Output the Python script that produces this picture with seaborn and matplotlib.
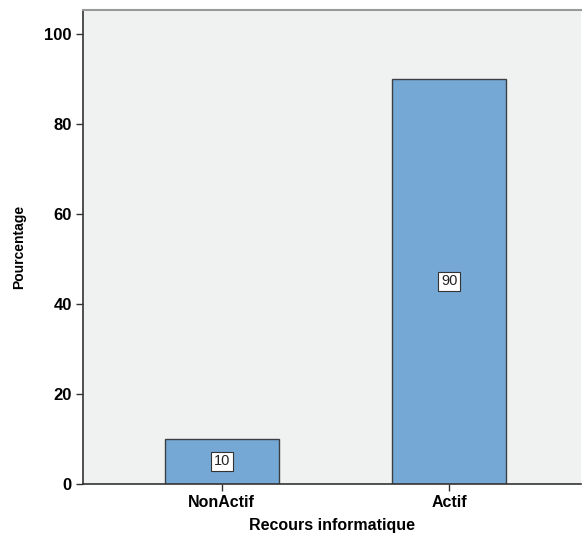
import matplotlib
matplotlib.use("Agg")
import matplotlib.pyplot as plt
import seaborn as sns
import pandas as pd

# Data
categories = ["NonActif", "Actif"]
percentages = [10, 90]
y_ticks = [0, 20, 40, 60, 80, 100]

df = pd.DataFrame({"Recours informatique": categories, "Pourcentage": percentages})

sns.set_style("white")
plt.rcParams['font.family'] = ['Liberation Sans', 'DejaVu Sans']
plt.rcParams['text.color'] = 'black'

fig = plt.figure(figsize=(5.82, 5.39), dpi=100)
ax = fig.add_axes([83 / 582, 55 / 539, 498 / 582, 474 / 539])
ax.set_facecolor("#F0F1F1")

sns.barplot(data=df, x="Recours informatique", y="Pourcentage", order=categories,
            color="#75A8D4", saturation=1, width=0.5, edgecolor="#3A3F44",
            linewidth=1.0, ax=ax)

# value labels in boxes
for i, v in enumerate(percentages):
    ax.text(i, v / 2, str(v), ha="center", va="center", fontsize=10.5, color="#222222",
            bbox=dict(boxstyle="square,pad=0.2", facecolor="white", edgecolor="#333333", linewidth=0.8))

ax.set_ylim(0, 105.3)
ax.set_xlim(-0.61, 1.58)
ax.set_yticks(y_ticks)
ax.set_yticklabels([str(t) for t in y_ticks], fontsize=12, fontweight="bold", color="black")
ax.set_xticks(range(len(categories)))
ax.set_xticklabels(categories, fontsize=11.5, fontweight="bold", color="black")
ax.set_xlabel("Recours informatique", fontsize=11.5, fontweight="bold", labelpad=6, color="black")
ax.set_ylabel("Pourcentage", fontsize=10, fontweight="bold", labelpad=13, color="black")

ax.tick_params(axis="both", bottom=True, left=True, direction="out", length=5, width=1.0,
               color="#333333", pad=3)
for side in ["left", "bottom"]:
    ax.spines[side].set_color("#333333")
    ax.spines[side].set_linewidth(1.2)
ax.spines["top"].set_color("#999999")
ax.spines["top"].set_linewidth(1.5)
ax.spines["right"].set_visible(False)

fig.savefig("out.png", dpi=100)
